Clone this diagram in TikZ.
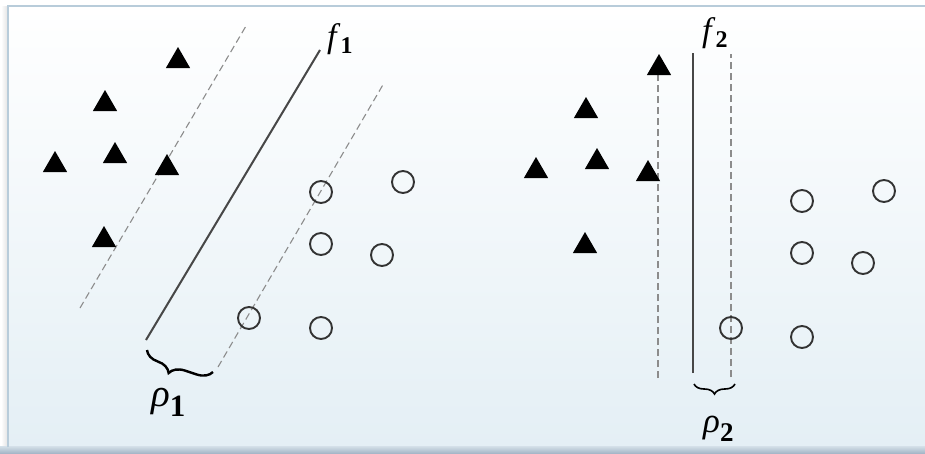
\documentclass[tikz,border=0pt]{standalone}
\usepackage{fontspec}
\setmainfont{Liberation Serif}
\usetikzlibrary{shapes.geometric,decorations.pathreplacing}
\definecolor{panelbot}{RGB}{228,239,245}
\definecolor{frameblue}{RGB}{184,204,218}
\definecolor{bandblue}{RGB}{166,183,200}
\begin{document}
\begin{tikzpicture}[x=1pt,y=-1pt,
  tri/.style={regular polygon, regular polygon sides=3, fill=black, inner sep=0pt, minimum size=28pt},
  dot/.style={circle, draw=black!80, line width=1.9pt, minimum size=22pt, inner sep=0pt},
  sep/.style={draw=black!72, line width=2pt},
  margin/.style={draw=black!45, line width=1.1pt, dash pattern=on 7pt off 4pt},
  bracestyle/.style={decorate, draw=black, line width=2.4pt},
  lbl/.style={inner sep=0pt, anchor=base west}
]
% panel background
\useasboundingbox (0,0) rectangle (925,453);
\fill[white] (0,0) rectangle (925,453);
\shade[left color=white, right color=black!10] (1,6) rectangle (7,447);
\shade[top color=white, bottom color=panelbot] (8,6) rectangle (925,447);
\shade[top color=frameblue!60, bottom color=bandblue] (0,446) rectangle (925,453);
\draw[frameblue, line width=1.6pt] (8,447) -- (8,6) -- (925,6);

% ---------- left: separator f1 with its margin lines ----------
\coordinate (f1a) at (146,340);
\coordinate (f1b) at (320,50);
\coordinate (m1a) at (80,308);
\coordinate (m1b) at (246,26);
\coordinate (m2a) at (218,367);
\coordinate (m2b) at (384,83);
\draw[margin] (m1a) -- (m1b);
\draw[margin] (m2a) -- (m2b);
\draw[sep] (f1a) -- (f1b);

\node[tri] (ta1) at (178,61) {};
\node[tri] (ta2) at (105,104) {};
\node[tri] (ta3) at (115,156) {};
\node[tri] (ta4) at (55,165) {};
\node[tri] (ta5) at (167,168) {};
\node[tri] (ta6) at (104,240) {};

\node[dot] (ca1) at (321,192) {};
\node[dot] (ca2) at (403,182) {};
\node[dot] (ca3) at (321,244) {};
\node[dot] (ca4) at (382,255) {};
\node[dot] (ca5) at (249,318) {};
\node[dot] (ca6) at (321,328) {};

\coordinate (b1a) at (147,350);
\coordinate (b1b) at (213,372);
\draw[bracestyle, decoration={brace, mirror, amplitude=15pt, aspect=0.4}] (b1a) -- (b1b);

\node[lbl] (f1) at (327,47) {\fontsize{34}{34}\selectfont\textit{f}\raisebox{-6pt}{\fontsize{24}{24}\selectfont\textbf{1}}};
\node[lbl] (r1) at (151,406) {\fontsize{39}{39}\selectfont\textit{ρ}\raisebox{-10pt}{\fontsize{31}{31}\selectfont\textbf{1}}};

% ---------- right: separator f2 with its margin lines ----------
\coordinate (f2a) at (693,373);
\coordinate (f2b) at (693,53);
\coordinate (n1a) at (658,378);
\coordinate (n1b) at (658,72);
\coordinate (n2a) at (731,377);
\coordinate (n2b) at (731,54);
\draw[margin] (n1a) -- (n1b);
\draw[margin] (n2a) -- (n2b);
\draw[sep] (f2a) -- (f2b);

\node[tri] (tb1) at (659,68) {};
\node[tri] (tb2) at (586,111) {};
\node[tri] (tb3) at (597,162) {};
\node[tri] (tb4) at (536,171) {};
\node[tri] (tb5) at (648,174) {};
\node[tri] (tb6) at (585,246) {};

\node[dot] (cb1) at (802,201) {};
\node[dot] (cb2) at (884,191) {};
\node[dot] (cb3) at (802,253) {};
\node[dot] (cb4) at (863,263) {};
\node[dot] (cb5) at (731,328) {};
\node[dot] (cb6) at (802,337) {};

\coordinate (b2a) at (694,384);
\coordinate (b2b) at (735,384);
\draw[bracestyle, line width=1.6pt, decoration={brace, mirror, amplitude=10pt}] (b2a) -- (b2b);

\node[lbl] (f2) at (702,41) {\fontsize{34}{34}\selectfont\textit{f}\raisebox{-6pt}{\fontsize{24}{24}\selectfont\textbf{2}}};
\node[lbl] (r2) at (703,432) {\fontsize{35}{35}\selectfont\textit{ρ}\raisebox{-9pt}{\fontsize{27}{27}\selectfont\textbf{2}}};
\end{tikzpicture}
\end{document}
